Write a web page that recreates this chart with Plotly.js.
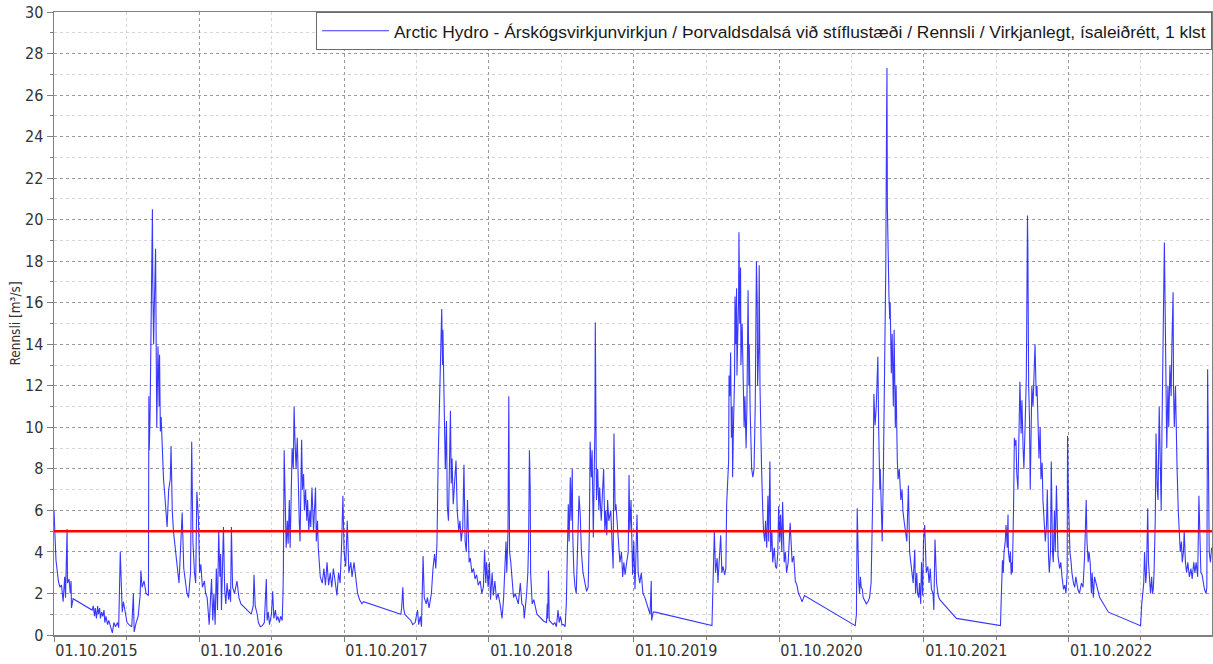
<!DOCTYPE html>
<html><head><meta charset="utf-8">
<script src="https://cdn.plot.ly/plotly-3.0.1.min.js"></script>
<style>html,body{margin:0;padding:0;background:#fff}#chart{width:1213px;height:664px}</style>
</head><body><div id="chart"></div>
<script>
const seriesName = "Arctic Hydro - Árskógsvirkjunvirkjun / Þorvaldsdalsá við stíflustæði / Rennsli / Virkjanlegt, ísaleiðrétt, 1 klst";
const yAxisTitle = "Rennsli [m³/s]";
const threshold = 5;
const xRange = ['2015-10-01', '2023-09-27'];
const yRange = [0, 30];

const wy2016Dates = ['2015-10-01','2015-10-03','2015-10-06','2015-10-12','2015-10-16','2015-10-20','2015-10-24','2015-10-28','2015-10-30','2015-11-03','2015-11-04','2015-11-08','2015-11-11','2015-11-13','2015-11-14','2015-11-18',
'2016-01-05','2016-01-08','2016-01-11','2016-01-13','2016-01-16','2016-01-19','2016-01-21','2016-01-24','2016-01-26','2016-01-29','2016-02-01','2016-02-04','2016-02-06','2016-02-09','2016-02-13','2016-02-16','2016-02-21','2016-02-25','2016-02-29',
'2016-03-04','2016-03-09','2016-03-12','2016-03-16','2016-03-19','2016-03-21','2016-03-24','2016-03-29','2016-04-02','2016-04-07','2016-04-14','2016-04-18','2016-04-20','2016-04-25','2016-04-30',
'2016-05-05','2016-05-07','2016-05-10','2016-05-15','2016-05-20','2016-05-26','2016-05-27','2016-05-28','2016-05-30','2016-06-02','2016-06-05','2016-06-06','2016-06-08','2016-06-10','2016-06-13','2016-06-15','2016-06-16','2016-06-19','2016-06-22','2016-06-23','2016-06-25','2016-06-27','2016-06-30',
'2016-07-03','2016-07-06','2016-07-09','2016-07-12','2016-07-16','2016-07-20','2016-07-22','2016-07-25','2016-07-28','2016-08-02','2016-08-07','2016-08-11','2016-08-15','2016-08-19','2016-08-23','2016-08-27','2016-08-31',
'2016-09-04','2016-09-09','2016-09-12','2016-09-15','2016-09-19','2016-09-22','2016-09-25','2016-09-29'];
const wy2016Flow = [6.0,4.8,3.6,2.6,2.3,2.4,1.6,2.8,1.8,5.1,2.5,2.7,2.0,2.6,1.3,1.75,
1.2,1.4,0.9,1.3,0.8,1.4,1.0,1.3,0.8,1.1,0.9,1.2,0.6,0.9,0.5,0.7,0.3,0.1,0.6,
0.4,0.6,0.35,4.0,1.5,1.1,1.6,0.9,0.6,0.5,0.4,2.0,0.15,0.6,0.9,
1.9,3.1,2.3,2.6,2.0,1.9,11.5,8.9,10.5,15.0,20.5,17.0,14.0,16.0,18.6,12.4,10.0,13.9,11.0,13.5,9.8,10.5,8.5,
7.5,6.8,5.9,5.2,7.0,7.5,9.1,6.0,5.0,3.9,3.2,2.5,4.5,5.9,3.2,2.5,2.0,
1.8,3.0,9.3,4.5,3.0,2.5,6.9,5.6];

const wy2017Dates = ['2016-10-02','2016-10-05','2016-10-09','2016-10-14','2016-10-17','2016-10-21','2016-10-26','2016-10-29','2016-11-01','2016-11-04','2016-11-07','2016-11-10','2016-11-13','2016-11-16','2016-11-19','2016-11-22','2016-11-24','2016-11-26','2016-11-29',
'2016-12-01','2016-12-04','2016-12-07','2016-12-10','2016-12-14','2016-12-16','2016-12-19','2016-12-21','2016-12-24','2016-12-29','2017-01-04','2017-01-09','2017-01-14',
'2017-02-09','2017-02-14','2017-02-16','2017-02-19','2017-02-24','2017-02-27','2017-03-04','2017-03-09','2017-03-14','2017-03-19','2017-03-21','2017-03-24','2017-03-27',
'2017-04-01','2017-04-04','2017-04-07','2017-04-11','2017-04-14','2017-04-17','2017-04-21','2017-04-24','2017-04-28','2017-04-30',
'2017-05-01','2017-05-03','2017-05-06','2017-05-08','2017-05-11','2017-05-13','2017-05-16','2017-05-18','2017-05-21','2017-05-23','2017-05-26','2017-05-28','2017-05-30',
'2017-06-02','2017-06-05','2017-06-07','2017-06-10','2017-06-12','2017-06-16','2017-06-18','2017-06-21','2017-06-23','2017-06-26','2017-06-29',
'2017-07-01','2017-07-04','2017-07-07','2017-07-09','2017-07-12','2017-07-16','2017-07-18','2017-07-21','2017-07-23','2017-07-26','2017-07-28','2017-07-31',
'2017-08-02','2017-08-07','2017-08-11','2017-08-15','2017-08-19','2017-08-23','2017-08-27','2017-08-31','2017-09-04','2017-09-09','2017-09-13','2017-09-17','2017-09-21','2017-09-25','2017-09-28'];
const wy2017Flow = [3.0,3.4,2.3,2.6,2.0,1.8,0.5,1.5,2.7,0.7,2.0,0.5,3.2,1.2,5.0,2.8,3.9,1.2,3.0,
5.2,2.2,1.5,2.5,1.7,2.2,1.6,5.2,2.3,2.0,2.6,1.8,1.5,
1.0,1.4,2.9,1.4,1.0,0.6,0.4,0.45,0.6,2.7,0.7,1.1,0.5,
1.0,2.1,0.8,1.2,0.7,0.9,0.6,0.9,0.7,2.0,
3.2,8.9,5.0,4.2,5.5,4.4,6.5,4.2,7.0,9.0,8.0,11.0,9.5,
8.0,9.5,7.0,5.5,4.5,9.4,7.0,7.75,6.0,7.0,5.5,
6.5,5.0,6.0,5.2,7.1,5.0,6.0,7.1,4.5,5.5,4.2,3.5,
2.8,2.5,3.2,2.4,3.5,2.4,3.0,2.3,3.2,2.5,1.9,3.0,2.5,4.5,6.7];

const wy2018Dates = ['2017-10-01','2017-10-05','2017-10-09','2017-10-13','2017-10-18','2017-10-21','2017-10-26','2017-11-01','2017-11-04','2017-11-09','2017-11-15','2017-11-19',
'2018-02-21','2018-02-23','2018-02-26','2018-02-28','2018-03-03','2018-03-08','2018-03-12','2018-03-18','2018-03-23','2018-03-29',
'2018-04-04','2018-04-07','2018-04-11','2018-04-14','2018-04-18','2018-04-21','2018-04-26','2018-04-29',
'2018-05-03','2018-05-09','2018-05-13','2018-05-17','2018-05-20','2018-05-23','2018-05-26','2018-05-28','2018-05-30',
'2018-06-01','2018-06-04','2018-06-06','2018-06-07','2018-06-09','2018-06-11','2018-06-13','2018-06-16','2018-06-18','2018-06-21','2018-06-23','2018-06-26','2018-06-28','2018-06-30',
'2018-07-03','2018-07-07','2018-07-10','2018-07-13','2018-07-17','2018-07-20','2018-07-23','2018-07-27','2018-07-30',
'2018-08-02','2018-08-05','2018-08-08','2018-08-12','2018-08-15','2018-08-19','2018-08-23','2018-08-27','2018-08-31',
'2018-09-04','2018-09-09','2018-09-13','2018-09-17','2018-09-20','2018-09-23','2018-09-25','2018-09-29'];
const wy2018Flow = [4.0,3.3,5.5,3.0,3.5,2.8,3.5,2.5,2.0,1.7,1.5,1.6,
1.0,1.3,2.3,1.3,1.0,0.9,0.8,0.7,0.5,0.6,
1.2,0.5,0.9,0.4,3.8,1.8,1.5,1.8,
1.3,2.0,3.2,3.9,3.2,4.4,8.4,10.2,12.0,
14.2,15.7,13.0,14.7,12.4,10.7,8.0,10.3,6.2,5.5,8.6,10.8,7.3,8.5,
6.3,7.6,8.4,6.0,5.0,5.5,4.5,5.2,8.2,
4.5,4.0,6.5,3.5,3.7,3.0,3.2,2.7,2.9,
2.4,2.6,2.0,2.3,4.1,2.5,3.5,2.3];

const wy2019Dates = ['2018-10-02','2018-10-05','2018-10-09','2018-10-12','2018-10-16','2018-10-20','2018-10-24','2018-10-29',
'2018-11-03','2018-11-07','2018-11-10','2018-11-13','2018-11-15','2018-11-18','2018-11-20','2018-11-22','2018-11-25','2018-11-29',
'2018-12-02','2018-12-06','2018-12-10','2018-12-14','2018-12-19','2018-12-23','2018-12-27','2018-12-29',
'2019-01-04','2019-01-07','2019-01-09','2019-01-11','2019-01-13','2019-01-14','2019-01-18','2019-01-22','2019-01-30',
'2019-02-09','2019-02-17','2019-02-23','2019-02-25','2019-02-26','2019-02-28',
'2019-03-02','2019-03-08','2019-03-12','2019-03-16','2019-03-20','2019-03-24','2019-03-27','2019-03-30',
'2019-04-03','2019-04-07','2019-04-11','2019-04-14','2019-04-16','2019-04-19','2019-04-21','2019-04-24','2019-04-26','2019-04-29','2019-04-30',
'2019-05-03','2019-05-06','2019-05-09','2019-05-12','2019-05-16','2019-05-19','2019-05-22','2019-05-26','2019-05-30',
'2019-06-04','2019-06-08','2019-06-11','2019-06-13','2019-06-16','2019-06-18','2019-06-21','2019-06-23','2019-06-25','2019-06-26','2019-06-28','2019-06-29',
'2019-07-02','2019-07-05','2019-07-07','2019-07-11','2019-07-14','2019-07-17','2019-07-20','2019-07-22','2019-07-25','2019-07-27','2019-07-30',
'2019-08-04','2019-08-07','2019-08-10','2019-08-12','2019-08-15','2019-08-17','2019-08-21','2019-08-24','2019-08-27','2019-08-31',
'2019-09-03','2019-09-06','2019-09-09','2019-09-13','2019-09-17','2019-09-19','2019-09-21','2019-09-24','2019-09-28'];
const wy2019Flow = [3.5,1.7,3.0,1.9,2.6,1.7,2.0,1.5,
0.8,1.8,3.5,4.5,3.0,5.0,11.5,4.0,3.5,2.2,
1.8,2.0,1.7,1.5,2.5,1.5,1.4,0.8,
2.0,3.0,4.5,8.9,7.0,3.0,1.5,1.7,1.0,
0.8,0.65,0.6,1.5,0.8,3.1,
0.7,0.6,0.5,0.6,0.4,1.2,0.6,0.9,
0.5,0.5,0.4,1.5,3.0,6.3,4.5,7.6,5.5,8.0,5.0,
3.0,2.3,2.0,4.0,6.7,5.8,4.0,3.0,2.5,
2.1,2.3,5.0,9.3,7.6,8.9,4.7,7.5,9.9,15.05,10.2,6.5,
8.0,6.0,7.1,5.5,6.8,8.0,5.0,6.0,4.8,6.5,5.5,
6.0,4.5,3.2,9.7,6.0,6.3,5.0,4.5,3.5,4.0,
2.8,3.5,2.9,3.5,4.0,7.7,5.0,6.5,2.9];

const wy2020Dates = ['2019-10-01','2019-10-04','2019-10-06','2019-10-09','2019-10-12','2019-10-16','2019-10-20','2019-10-24','2019-10-29',
'2019-11-03','2019-11-07','2019-11-11','2019-11-14','2019-11-15','2019-11-19','2019-11-24',
'2020-04-15','2020-04-18','2020-04-21','2020-04-24','2020-04-28','2020-04-30',
'2020-05-03','2020-05-07','2020-05-10','2020-05-13','2020-05-17','2020-05-20','2020-05-22','2020-05-24','2020-05-27','2020-05-28','2020-05-30',
'2020-06-01','2020-06-03','2020-06-05','2020-06-06','2020-06-08','2020-06-11','2020-06-12','2020-06-14','2020-06-16','2020-06-17','2020-06-19','2020-06-21','2020-06-22','2020-06-24','2020-06-26','2020-06-27','2020-06-30',
'2020-07-02','2020-07-05','2020-07-07','2020-07-10','2020-07-12','2020-07-15','2020-07-17','2020-07-18','2020-07-20','2020-07-22','2020-07-24','2020-07-27','2020-07-30',
'2020-08-02','2020-08-05','2020-08-07','2020-08-08','2020-08-11','2020-08-12','2020-08-14','2020-08-16','2020-08-18','2020-08-21','2020-08-23','2020-08-26','2020-08-28','2020-08-31',
'2020-09-03','2020-09-05','2020-09-08','2020-09-10','2020-09-13','2020-09-15','2020-09-19','2020-09-22','2020-09-25','2020-09-28','2020-09-30'];
const wy2020Flow = [4.5,2.2,3.5,5.8,3.0,2.5,3.0,2.0,1.8,
1.5,1.3,1.0,2.6,0.7,1.1,1.1,
0.45,3.0,5.0,3.0,3.7,2.5,
3.5,4.8,3.0,3.3,2.9,3.2,6.3,7.0,8.4,12.5,11.5,
13.6,9.5,11.0,7.6,9.9,12.5,16.3,14.0,16.7,12.5,14.5,16.0,19.4,15.0,17.7,13.0,15.0,
12.0,10.0,11.5,9.0,11.0,16.6,12.0,14.0,11.0,9.0,8.0,7.6,8.0,
11.0,18.0,16.0,12.0,14.0,17.8,12.0,9.5,8.0,6.0,5.0,4.5,5.5,4.2,
6.7,4.5,8.35,4.0,5.0,3.5,4.2,3.3,3.2,4.0,6.2];

const wy2021Dates = ['2020-10-03','2020-10-05','2020-10-08','2020-10-10','2020-10-14','2020-10-17','2020-10-20','2020-10-24','2020-10-29',
'2020-11-03','2020-11-07','2020-11-11','2020-11-15','2020-11-19','2020-11-24','2020-11-28','2020-12-02','2020-12-04',
'2021-04-11','2021-04-14','2021-04-16','2021-04-19','2021-04-20','2021-04-22','2021-04-24','2021-04-26','2021-04-29',
'2021-05-01','2021-05-05','2021-05-09','2021-05-13','2021-05-17','2021-05-21','2021-05-23','2021-05-26','2021-05-28','2021-05-31',
'2021-06-03','2021-06-05','2021-06-07','2021-06-09','2021-06-12','2021-06-13','2021-06-16','2021-06-18','2021-06-21','2021-06-23','2021-06-26','2021-06-27','2021-06-29','2021-06-30',
'2021-07-01','2021-07-03','2021-07-05','2021-07-07','2021-07-08','2021-07-11','2021-07-13','2021-07-16','2021-07-18','2021-07-21','2021-07-23','2021-07-26','2021-07-28','2021-07-31',
'2021-08-04','2021-08-07','2021-08-09','2021-08-12','2021-08-16','2021-08-19','2021-08-23','2021-08-26','2021-08-29',
'2021-09-01','2021-09-04','2021-09-08','2021-09-10','2021-09-13','2021-09-15','2021-09-18','2021-09-20','2021-09-23','2021-09-25','2021-09-28','2021-09-30'];
const wy2021Flow = [4.5,5.8,4.0,6.4,3.5,4.0,3.0,3.5,5.4,
3.5,3.8,2.6,2.4,2.0,1.8,1.6,1.8,1.9,
0.45,1.0,6.1,3.0,2.5,2.0,2.8,2.3,2.2,
1.8,1.6,1.5,1.6,1.8,2.5,4.5,7.55,11.6,10.1,
11.0,13.1,13.4,10.0,7.0,8.0,5.85,4.5,8.0,10.6,16.1,17.7,25.0,27.3,
20.6,17.4,16.3,15.2,16.0,12.6,14.5,11.0,14.7,10.0,12.0,8.4,7.5,8.0,
6.5,7.0,6.0,5.5,5.0,4.5,7.2,4.0,3.5,
3.0,2.5,4.1,2.0,3.0,2.0,1.8,2.5,1.5,3.5,1.9,4.5];

const wy2022Dates = ['2021-10-03','2021-10-07','2021-10-11','2021-10-14','2021-10-17','2021-10-20','2021-10-24','2021-10-26','2021-10-29',
'2021-11-02','2021-11-06','2021-11-10','2021-12-22',
'2022-04-12','2022-04-14','2022-04-17','2022-04-19','2022-04-21','2022-04-24','2022-04-26','2022-04-29',
'2022-05-01','2022-05-02','2022-05-05','2022-05-07','2022-05-09','2022-05-11','2022-05-12','2022-05-15','2022-05-17','2022-05-18','2022-05-21','2022-05-23','2022-05-26','2022-05-28','2022-05-31',
'2022-06-03','2022-06-05','2022-06-08','2022-06-10','2022-06-13','2022-06-16','2022-06-17','2022-06-19','2022-06-20','2022-06-22','2022-06-24','2022-06-26','2022-06-28','2022-06-30',
'2022-07-03','2022-07-06','2022-07-08','2022-07-11','2022-07-13','2022-07-16','2022-07-18','2022-07-21','2022-07-23','2022-07-26','2022-07-28','2022-07-31',
'2022-08-03','2022-08-06','2022-08-08','2022-08-11','2022-08-13','2022-08-16','2022-08-18','2022-08-21','2022-08-23','2022-08-26','2022-08-28','2022-08-31',
'2022-09-02','2022-09-04','2022-09-08','2022-09-11','2022-09-14','2022-09-18','2022-09-21','2022-09-24','2022-09-27','2022-09-28','2022-09-30'];
const wy2022Flow = [5.3,3.0,3.3,2.5,3.2,2.2,2.0,1.2,4.6,
2.5,1.9,1.7,0.8,
0.45,1.8,3.6,3.0,4.0,4.5,5.3,4.2,
5.8,4.0,3.5,4.0,2.9,3.5,3.0,6.2,9.5,9.1,9.4,7.8,7.0,8.7,12.2,
9.7,11.3,9.0,8.0,10.0,12.3,14.5,20.2,18.7,12.0,10.5,7.0,9.0,12.0,
11.0,13.6,14.0,11.5,12.0,10.0,8.5,10.0,7.5,8.3,6.5,5.5,
4.5,5.3,7.0,3.8,3.0,4.0,8.35,4.0,3.5,6.0,4.0,7.2,
5.0,3.8,3.2,3.5,2.8,2.2,2.4,2.0,3.0,9.6,6.7];

const wy2023Dates = ['2022-10-02','2022-10-04','2022-10-07','2022-10-09','2022-10-13','2022-10-16','2022-10-19','2022-10-24','2022-10-28',
'2022-11-02','2022-11-06','2022-11-10','2022-11-14','2022-11-16','2022-11-19','2022-11-21','2022-11-24','2022-11-27','2022-11-29',
'2022-12-02','2022-12-05','2022-12-09','2022-12-14','2022-12-18','2023-01-09',
'2023-03-31','2023-04-03','2023-04-05','2023-04-08','2023-04-10','2023-04-13','2023-04-15','2023-04-18','2023-04-20','2023-04-23','2023-04-25','2023-04-28','2023-04-30',
'2023-05-02','2023-05-04','2023-05-07','2023-05-09','2023-05-12','2023-05-14','2023-05-17','2023-05-19','2023-05-22','2023-05-24','2023-05-27','2023-05-28','2023-05-30',
'2023-06-01','2023-06-03','2023-06-05','2023-06-08','2023-06-10','2023-06-13','2023-06-16','2023-06-18','2023-06-21','2023-06-22','2023-06-24','2023-06-27','2023-06-29',
'2023-07-01','2023-07-04','2023-07-07','2023-07-09','2023-07-12','2023-07-14','2023-07-17','2023-07-19','2023-07-22','2023-07-25','2023-07-28',
'2023-08-01','2023-08-05','2023-08-08','2023-08-12','2023-08-15','2023-08-18','2023-08-22','2023-08-25','2023-08-28','2023-08-30',
'2023-09-02','2023-09-05','2023-09-08','2023-09-12','2023-09-14','2023-09-16','2023-09-18','2023-09-20','2023-09-23','2023-09-26'];
const wy2023Flow = [5.0,4.0,3.5,3.0,2.5,2.3,2.8,2.2,2.0,
2.5,2.3,3.8,6.5,4.5,3.5,4.0,3.5,2.0,3.0,
1.8,2.8,2.5,2.1,1.8,1.1,
0.45,1.5,2.0,2.5,4.0,2.5,3.0,6.1,3.5,2.2,2.0,2.8,2.0,
2.2,3.0,5.5,9.7,7.0,6.5,11.0,9.0,6.0,10.0,13.2,16.0,18.9,
14.7,11.0,9.0,12.0,10.0,13.0,11.5,14.0,16.5,12.0,10.0,12.0,9.5,
8.0,6.0,5.0,4.0,4.5,3.5,4.0,5.0,3.5,3.0,3.5,
2.8,3.2,2.7,3.5,3.0,3.5,2.8,6.7,3.5,3.0,
2.9,2.5,2.2,2.0,2.3,12.8,9.6,4.0,3.5,4.2];

const dates = [].concat(wy2016Dates, wy2017Dates, wy2018Dates, wy2019Dates, wy2020Dates, wy2021Dates, wy2022Dates, wy2023Dates);
const flow = [].concat(wy2016Flow, wy2017Flow, wy2018Flow, wy2019Flow, wy2020Flow, wy2021Flow, wy2022Flow, wy2023Flow);

const narrow = '"Liberation Sans Narrow", "Arial Narrow", "DejaVu Sans Condensed", sans-serif';

const trace = {
  type: 'scatter', mode: 'lines', x: dates, y: flow, name: seriesName,
  line: {color: 'rgba(0,0,255,0.78)', width: 1.1}
};

const layout = {
  width: 1213, height: 664,
  margin: {l: 54, r: 1, t: 12, b: 29, pad: 0},
  paper_bgcolor: '#fff', plot_bgcolor: '#fff',
  font: {family: narrow, size: 16, color: '#333'},
  showlegend: true,
  legend: {x: 1, y: 1, xanchor: 'right', yanchor: 'top', bgcolor: '#fff', bordercolor: '#6a6a6a', borderwidth: 1,
           font: {family: '"Liberation Sans", Arial, sans-serif', size: 17.4, color: '#1a1a1a'}, itemwidth: 67},
  xaxis: {
    type: 'date', range: xRange, tick0: '2015-10-01', dtick: 'M12', tickformat: '%d.%m.%Y',
    ticklabelposition: 'outside right', tickfont: {family: narrow, size: 16, color: '#333'},
    showgrid: true, gridcolor: '#9a9a9a', griddash: 'dot', gridwidth: 1,
    showline: true, linecolor: '#808080', linewidth: 1.5, mirror: true,
    ticks: 'outside', ticklen: 5, tickcolor: '#808080', zeroline: false,
    minor: {dtick: 'M6', tick0: '2015-10-01', showgrid: true, gridcolor: '#d6d6d6', griddash: 'dot', ticks: 'outside', ticklen: 3, tickcolor: '#808080'}
  },
  yaxis: {
    range: yRange, tick0: 0, dtick: 2, tickfont: {family: narrow, size: 16, color: '#333'},
    showgrid: true, gridcolor: '#9a9a9a', griddash: 'dot', gridwidth: 1,
    showline: true, linecolor: '#808080', linewidth: 1.5, mirror: true,
    ticks: 'outside', ticklen: 6, tickcolor: '#808080', zeroline: false,
    minor: {dtick: 1, showgrid: true, gridcolor: '#d6d6d6', griddash: 'dot', ticks: 'outside', ticklen: 3, tickcolor: '#808080'},
    title: {text: yAxisTitle, font: {family: narrow, size: 13.5, color: '#333'}, standoff: 1}
  },
  shapes: [{type: 'line', xref: 'paper', x0: 0, x1: 1, yref: 'y', y0: threshold, y1: threshold,
            line: {color: '#ff0000', width: 2.5}}]
};

Plotly.newPlot('chart', [trace], layout, {staticPlot: true, displayModeBar: false});
</script>
</body></html>
